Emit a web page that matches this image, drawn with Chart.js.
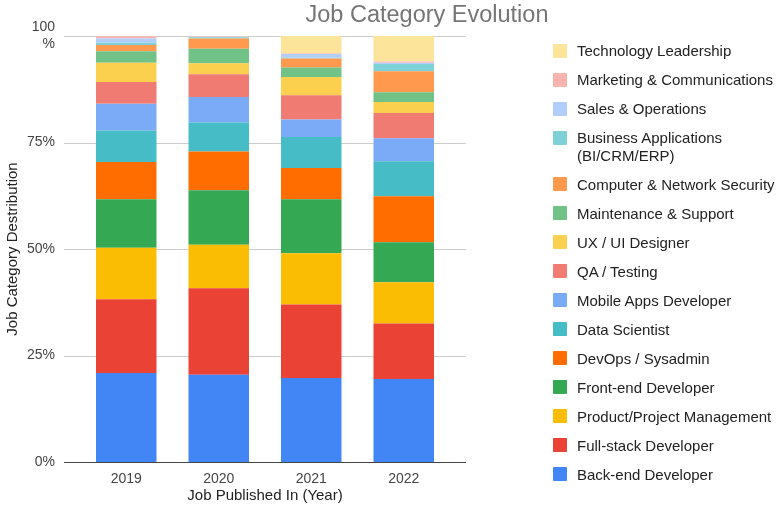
<!DOCTYPE html>
<html>
<head>
<meta charset="utf-8">
<title>Job Category Evolution</title>
<script src="https://cdn.jsdelivr.net/npm/chart.js@4.4.1/dist/chart.umd.min.js"></script>
<style>
    body { margin: 0; background: #fff; }
    #wrap { position: relative; width: 778px; height: 508px; font-family: "Liberation Sans", Arial, sans-serif; }
    #jobChart { position: absolute; left: 0; top: 0; }
    #title {
        position: absolute; left: 427px; top: 3.4px; transform: translateX(-50%);
        font-size: 23.5px; line-height: 1; color: #757575; white-space: nowrap;
    }
    #legend { position: absolute; left: 552px; top: 42px; margin: 0; padding: 0; list-style: none; }
    #legend li { position: relative; margin-bottom: 11.5px; padding-left: 25px; width: 201px; font-size: 15px; line-height: 17.5px; color: #222; }
    #legend li span { position: absolute; left: 1px; top: 1.5px; width: 14px; height: 14px; border-radius: 1px; }
</style>
</head>
<body>
<div id="wrap">
    <canvas id="jobChart" width="778" height="508"></canvas>
    <div id="title">Job Category Evolution</div>
    <ul id="legend"></ul>
</div>
<script>
// Years on the x axis
const years = ['2019', '2020', '2021', '2022'];

// Share of job posts per category (%), one value per year
const backEnd      = [20.9, 20.5, 19.7, 19.5];
const fullStack    = [17.3, 20.3, 17.3, 13.0];
const productMgmt  = [12.1, 10.2, 12.0, 9.7];
const frontEnd     = [11.4, 12.8, 12.7, 9.4];
const devOps       = [8.7, 9.1, 7.3, 10.8];
const dataSci      = [7.4, 6.8, 7.3, 8.2];
const mobileApps   = [6.3, 6.0, 4.1, 5.4];
const qaTesting    = [5.1, 5.3, 5.7, 5.9];
const uxUi         = [4.5, 2.6, 4.3, 2.6];
const maintenance  = [2.7, 3.4, 2.2, 2.3];
const security     = [1.5, 2.4, 2.1, 4.9];
const businessApps = [0.5, 0.3, 0.2, 1.7];
const salesOps     = [1.0, 0.1, 0.9, 0.3];
const marketing    = [0.5, 0.1, 0.1, 0.3];
const techLead     = [0.1, 0.1, 4.1, 6.0];

// Category names, bottom of the stack first
const categories = [
    'Back-end Developer', 'Full-stack Developer', 'Product/Project Management',
    'Front-end Developer', 'DevOps / Sysadmin', 'Data Scientist',
    'Mobile Apps Developer', 'QA / Testing', 'UX / UI Designer',
    'Maintenance & Support', 'Computer & Network Security',
    'Business Applications (BI/CRM/ERP)', 'Sales & Operations',
    'Marketing & Communications', 'Technology Leadership'
];
const series = [
    backEnd, fullStack, productMgmt, frontEnd, devOps, dataSci, mobileApps,
    qaTesting, uxUi, maintenance, security, businessApps, salesOps, marketing, techLead
];

// Y axis ticks
const yTicks = [0, 25, 50, 75, 100];

const colors = [
    '#4285f4', '#ea4335', '#fbbc04', '#34a853', '#ff6d01', '#46bdc6', '#7baaf7',
    '#f07b72', '#fcd04f', '#71c287', '#ff994d', '#7ed1d7', '#b3cefb', '#f7b4ae', '#fde49b'
];

const datasets = categories.map((name, i) => ({
    label: name,
    data: series[i],
    backgroundColor: colors[i],
    borderWidth: 0,
    categoryPercentage: 1,
    barPercentage: 0.654
}));

// Gridlines run a bit wider than the bar area, like the sheets chart
const gridPlugin = {
    id: 'wideGrid',
    beforeDatasetsDraw(chart) {
        const { ctx, scales: { y } } = chart;
        ctx.save();
        ctx.strokeStyle = '#cccccc';
        ctx.lineWidth = 1;
        yTicks.slice(1).forEach(v => {
            const py = Math.round(y.getPixelForValue(v)) + 0.5;
            ctx.beginPath();
            ctx.moveTo(64, py);
            ctx.lineTo(466, py);
            ctx.stroke();
        });
        ctx.restore();
    },
    afterDatasetsDraw(chart) {
        const { ctx, scales: { y } } = chart;
        const py = Math.round(y.getPixelForValue(0)) + 0.5;
        ctx.save();
        ctx.strokeStyle = '#444444';
        ctx.lineWidth = 1;
        ctx.beginPath();
        ctx.moveTo(64, py);
        ctx.lineTo(466, py);
        ctx.stroke();
        ctx.restore();
    }
};

Chart.defaults.font.family = '"Liberation Sans", Arial, sans-serif';

const chart = new Chart(document.getElementById('jobChart'), {
    type: 'bar',
    data: { labels: years, datasets: datasets },
    options: {
        responsive: false,
        animation: false,
        layout: { padding: { top: 36, right: 328, bottom: 0, left: 0 } },
        plugins: {
            legend: { display: false },
            tooltip: { enabled: false }
        },
        scales: {
            x: {
                stacked: true,
                grid: { display: false, drawTicks: false },
                border: { display: false },
                ticks: { color: '#444', font: { size: 14 }, padding: 9 },
                title: {
                    display: true,
                    text: 'Job Published In (Year)',
                    color: '#222',
                    font: { size: 15 },
                    padding: { top: 0, bottom: 3 }
                },
                afterFit(scale) { scale.height = 46; }
            },
            y: {
                stacked: true,
                min: 0,
                max: 100,
                afterBuildTicks(scale) { scale.ticks = yTicks.map(v => ({ value: v })); },
                grid: { display: false, drawTicks: false },
                border: { display: false },
                ticks: {
                    color: '#444',
                    font: { size: 14 },
                    padding: 25,
                    callback: v => (v === 100 ? ['100', '%'] : v + '%')
                },
                title: {
                    display: true,
                    text: 'Job Category Destribution',
                    color: '#222',
                    font: { size: 15 },
                    padding: { top: 4, bottom: 4 }
                },
                afterFit(scale) {
                    // fixed axis width; the wide label gap should not push the plot down
                    scale.width = 80;
                    scale.paddingTop = 0;
                    scale.paddingBottom = 0;
                }
            }
        }
    },
    plugins: [gridPlugin]
});

// Legend on the right, top of the stack listed first
const legendEl = document.getElementById('legend');
chart.data.datasets.slice().reverse().forEach(ds => {
    const li = document.createElement('li');
    const box = document.createElement('span');
    box.style.background = ds.backgroundColor;
    li.appendChild(box);
    li.appendChild(document.createTextNode(ds.label));
    legendEl.appendChild(li);
});
</script>
</body>
</html>
